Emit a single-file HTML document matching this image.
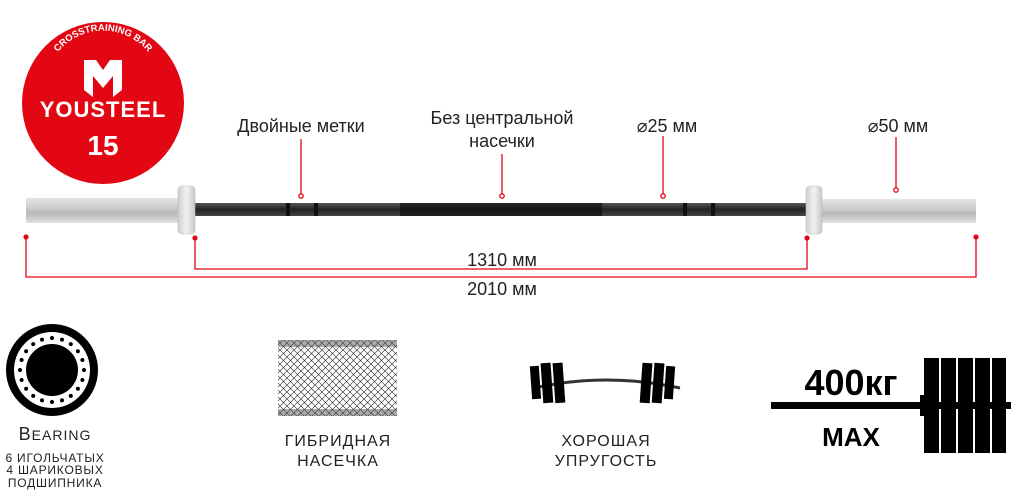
<!DOCTYPE html>
<html><head><meta charset="utf-8"><style>
html,body{margin:0;padding:0;background:#fff;}
body{width:1024px;height:498px;position:relative;overflow:hidden;font-family:"Liberation Sans","DejaVu Sans",sans-serif;}
</style></head><body>
<svg width="1024" height="498" viewBox="0 0 1024 498" xmlns="http://www.w3.org/2000/svg" style="position:absolute;left:0;top:0">
<defs>
<linearGradient id="sl" x1="0" y1="0" x2="0" y2="1">
<stop offset="0" stop-color="#e4e4e4"/><stop offset="0.35" stop-color="#d0d0d0"/><stop offset="0.6" stop-color="#b8b8b8"/><stop offset="1" stop-color="#e0e0e0"/></linearGradient>
<linearGradient id="co" x1="0" y1="0" x2="1" y2="0">
<stop offset="0" stop-color="#cfcfcf"/><stop offset="0.5" stop-color="#f2f2f2"/><stop offset="1" stop-color="#c8c8c8"/></linearGradient>
<linearGradient id="sh" x1="0" y1="0" x2="0" y2="1">
<stop offset="0" stop-color="#555"/><stop offset="0.5" stop-color="#222"/><stop offset="1" stop-color="#444"/></linearGradient>
<pattern id="kn" width="7" height="7" patternUnits="userSpaceOnUse">
<path d="M0 0 L7 7 M7 0 L0 7" stroke="#222" stroke-width="0.6"/></pattern>
<path id="arc" d="M58 52 A58 58 0 0 1 148 52"/>
</defs>
<!-- logo -->
<circle cx="103" cy="103" r="81" fill="#e30613"/>
<text fill="#fff" font-size="9.5" font-weight="bold" font-family="Liberation Sans"><textPath href="#arc" startOffset="50%" text-anchor="middle">CROSSTRAINING BAR</textPath></text>
<g fill="#fff">
<polygon points="84,60 96,60 103,70 110,60 122,60 122,90 113,97 113,76 103,88 93,76 93,97 84,90"/>
</g>
<text x="103" y="117" fill="#fff" font-size="22" font-weight="bold" text-anchor="middle" letter-spacing="1">YOUSTEEL</text>
<text x="103" y="155" fill="#fff" font-size="28" font-weight="bold" text-anchor="middle">15</text>
<!-- bar -->
<rect x="26" y="198" width="155" height="25" fill="url(#sl)"/>
<rect x="822" y="199" width="154" height="24" fill="url(#sl)"/>
<rect x="192" y="203" width="616" height="13" fill="url(#sh)"/>
<rect x="400" y="203" width="202" height="13" fill="#111" opacity="0.7"/>
<rect x="286" y="203" width="4" height="13" fill="#111"/><rect x="314" y="203" width="4" height="13" fill="#111"/>
<rect x="683" y="203" width="4" height="13" fill="#111"/><rect x="711" y="203" width="4" height="13" fill="#111"/>
<rect x="178" y="186" width="17" height="48" rx="4" fill="url(#co)" stroke="#bbb" stroke-width="0.6"/>
<rect x="806" y="186" width="16" height="48" rx="4" fill="url(#co)" stroke="#bbb" stroke-width="0.6"/>
<!-- callouts -->
<g stroke="#e30613" stroke-width="1.3" fill="none">
<line x1="301" y1="139" x2="301" y2="194"/><circle cx="301" cy="196" r="2.2" fill="#fff"/>
<line x1="502" y1="154" x2="502" y2="194"/><circle cx="502" cy="196" r="2.2" fill="#fff"/>
<line x1="663" y1="136" x2="663" y2="194"/><circle cx="663" cy="196" r="2.2" fill="#fff"/>
<line x1="896" y1="137" x2="896" y2="188"/><circle cx="896" cy="190" r="2.2" fill="#fff"/>
<polyline points="195,238 195,269 807,269 807,238"/>
<polyline points="26,237 26,277 976,277 976,237"/>
</g>
<g fill="#e30613"><circle cx="26" cy="237" r="2.6"/><circle cx="195" cy="238" r="2.6"/><circle cx="807" cy="238" r="2.6"/><circle cx="976" cy="237" r="2.6"/></g>
<g font-size="18" fill="#222" text-anchor="middle">
<text x="301" y="132">Двойные метки</text>
<text x="502" y="124">Без центральной</text>
<text x="502" y="147">насечки</text>
<text x="667" y="132">⌀25 мм</text>
<text x="898" y="132">⌀50 мм</text>
<text x="502" y="266">1310 мм</text>
<text x="502" y="295">2010 мм</text>
</g>
<!-- bearing -->
<circle cx="52" cy="370" r="46" fill="#000"/>
<circle cx="52" cy="370" r="38" fill="#fff"/>
<circle cx="52" cy="370" r="26" fill="#000"/>
<g fill="#000">
<circle cx="52" cy="338" r="2"/><circle cx="62" cy="339.6" r="2"/><circle cx="70.8" cy="344.1" r="2"/><circle cx="77.9" cy="351.2" r="2"/><circle cx="82.4" cy="360" r="2"/><circle cx="84" cy="370" r="2"/><circle cx="82.4" cy="380" r="2"/><circle cx="77.9" cy="388.8" r="2"/><circle cx="70.8" cy="395.9" r="2"/><circle cx="62" cy="400.4" r="2"/><circle cx="52" cy="402" r="2"/><circle cx="42" cy="400.4" r="2"/><circle cx="33.2" cy="395.9" r="2"/><circle cx="26.1" cy="388.8" r="2"/><circle cx="21.6" cy="380" r="2"/><circle cx="20" cy="370" r="2"/><circle cx="21.6" cy="360" r="2"/><circle cx="26.1" cy="351.2" r="2"/><circle cx="33.2" cy="344.1" r="2"/><circle cx="42" cy="339.6" r="2"/>
</g>
<g fill="#222" text-anchor="middle">
<text x="55" y="440" font-size="18" letter-spacing="1">B<tspan font-size="14">EARING</tspan></text>
<text x="55" y="462" font-size="12" letter-spacing="0.8">6 ИГОЛЬЧАТЫХ</text>
<text x="55" y="474" font-size="12" letter-spacing="0.8">4 ШАРИКОВЫХ</text>
<text x="55" y="487" font-size="12" letter-spacing="0.8">ПОДШИПНИКА</text>
</g>
<!-- knurl -->
<rect x="278" y="340" width="119" height="76" fill="url(#kn)"/>
<rect x="278" y="340" width="119" height="7" fill="#555" opacity="0.5"/>
<rect x="278" y="409" width="119" height="7" fill="#555" opacity="0.5"/>
<g fill="#222" text-anchor="middle" font-size="16" letter-spacing="1">
<text x="338" y="446">ГИБРИДНАЯ</text>
<text x="338" y="466">НАСЕЧКА</text>
<text x="606" y="446">ХОРОШАЯ</text>
<text x="606" y="466">УПРУГОСТЬ</text>
</g>
<!-- bent bar -->
<path d="M534 388 Q606 372 680 388" stroke="#333" stroke-width="3" fill="none"/>
<g fill="#000">
<rect x="531" y="366" width="9" height="33" transform="rotate(-4 536 383)"/>
<rect x="542" y="363" width="10" height="40" transform="rotate(-4 546 384)"/>
<rect x="554" y="363" width="10" height="40" transform="rotate(-4 557 384)"/>
<rect x="641" y="363" width="10" height="40" transform="rotate(4 646 384)"/>
<rect x="653" y="363" width="10" height="40" transform="rotate(4 657 384)"/>
<rect x="665" y="366" width="9" height="33" transform="rotate(4 668 383)"/>
</g>
<!-- 400kg -->
<rect x="771" y="402" width="240" height="7" fill="#000"/>
<g fill="#000">
<rect x="920" y="395" width="4" height="21"/>
<rect x="924" y="358" width="15" height="95"/><rect x="941" y="358" width="15" height="95"/><rect x="958" y="358" width="15" height="95"/><rect x="975" y="358" width="15" height="95"/><rect x="992" y="358" width="14" height="95"/>
</g>
<text x="851" y="395" font-size="36" font-weight="bold" text-anchor="middle" fill="#000">400кг</text>
<text x="851" y="446" font-size="26" font-weight="bold" text-anchor="middle" fill="#000">MAX</text>
</svg>
</body></html>
